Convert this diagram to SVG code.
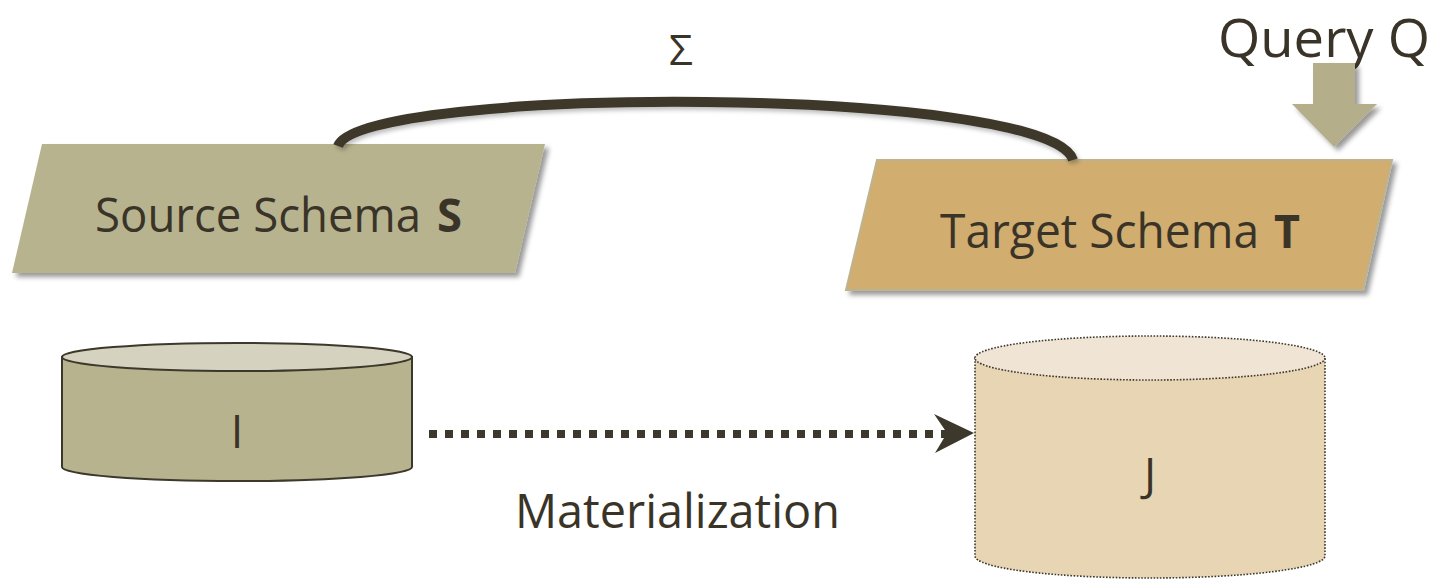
<svg xmlns="http://www.w3.org/2000/svg" width="1442" height="587" viewBox="0 0 1442 587">
  <style>
    .lbl { font-family: "Open Sans", "Noto Sans", "Liberation Sans", sans-serif; fill: #3a3428; }
    .bold { font-weight: bold; }
    .src { fill: #b8b38f; }
    .tgt { fill: #d1ad70; stroke: #bdb38e; stroke-width: 2; }
    .db-i { stroke: #3c382c; stroke-width: 2; }
    .db-j { stroke: #3c382c; stroke-width: 1.6; stroke-dasharray: 1.6 1.6; }
  </style>
  <defs>
    <filter id="shadow" x="-10%" y="-20%" width="125%" height="150%">
      <feDropShadow dx="4" dy="4" stdDeviation="2.5" flood-color="#000" flood-opacity="0.4"/>
    </filter>
    <filter id="softShadow" x="-5%" y="-20%" width="110%" height="150%">
      <feDropShadow dx="2" dy="3" stdDeviation="2" flood-color="#000" flood-opacity="0.25"/>
    </filter>
  </defs>

  <!-- Source schema -->
  <g id="source-schema">
    <polygon class="src" points="42,144 545,144 515,273 12,273" filter="url(#shadow)"/>
    <text class="lbl" x="95" y="232" font-size="47" textLength="326" lengthAdjust="spacingAndGlyphs">Source Schema</text>
    <text class="lbl bold" x="437" y="232" font-size="47" textLength="25" lengthAdjust="spacingAndGlyphs">S</text>
  </g>

  <!-- Target schema -->
  <g id="target-schema">
    <polygon class="tgt" points="877,160 1392,160 1363,290 846,290" filter="url(#shadow)"/>
    <text class="lbl" x="940" y="248" font-size="47" textLength="319" lengthAdjust="spacingAndGlyphs">Target Schema</text>
    <text class="lbl bold" x="1274" y="248" font-size="47" textLength="26" lengthAdjust="spacingAndGlyphs">T</text>
  </g>

  <!-- Query Q with its down arrow -->
  <g id="query">
    <text class="lbl" x="1218" y="57" font-size="53" textLength="212" lengthAdjust="spacingAndGlyphs">Query Q</text>
    <polygon points="1313,63 1355,63 1355,104 1377,104 1334,147 1292,104 1313,104" fill="#b5ae8a" filter="url(#shadow)"/>
  </g>

  <!-- Instance I -->
  <g id="instance-i">
    <path class="db-i" d="M62,357 L62,467 A175,14 0 0 0 412,467 L412,357 Z" fill="#b8b38f"/>
    <ellipse class="db-i" cx="237" cy="357" rx="175" ry="14" fill="#d5d2bf"/>
    <text class="lbl" x="237" y="448" font-size="45" text-anchor="middle">I</text>
  </g>

  <!-- Instance J -->
  <g id="instance-j">
    <path class="db-j" d="M975,358 L975,556 A175,22 0 0 0 1325,556 L1325,358 Z" fill="#e8d5b3"/>
    <ellipse class="db-j" cx="1150" cy="358" rx="175" ry="22" fill="#f0e4d4"/>
    <text class="lbl" x="1150" y="491" font-size="45" text-anchor="middle">J</text>
  </g>

  <!-- Connectors -->
  <g id="connectors">
    <path d="M338,146 C360,85 1050,85 1073,160" fill="none" stroke="#3c382c" stroke-width="10" filter="url(#softShadow)"/>
    <text class="lbl" x="681" y="65" font-size="42" text-anchor="middle">Σ</text>
    <line x1="429" y1="434" x2="948" y2="434" stroke="#3c382c" stroke-width="8" stroke-dasharray="8 8"/>
    <path d="M934,414 L974,433 L935,453 L947,433 Z" fill="#3c382c"/>
    <text class="lbl" x="515" y="528" font-size="47" textLength="325" lengthAdjust="spacingAndGlyphs">Materialization</text>
  </g>
</svg>
